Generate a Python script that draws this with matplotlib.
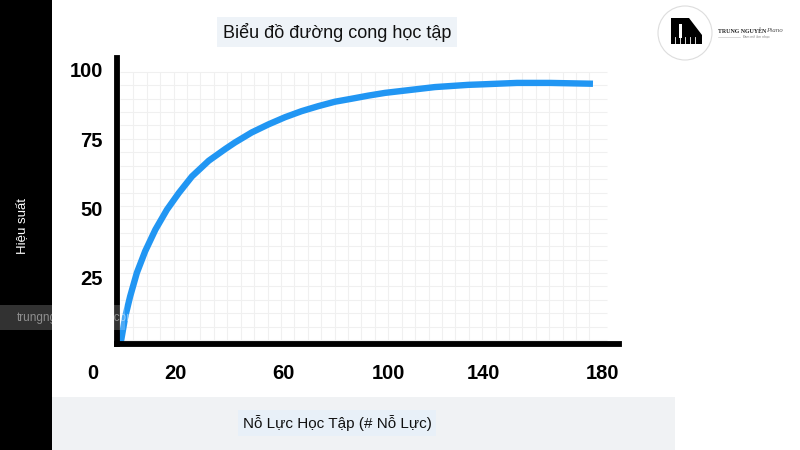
import numpy as np
import matplotlib
matplotlib.use("Agg")
import matplotlib.pyplot as plt
from matplotlib.patches import Rectangle, Circle, Polygon
from matplotlib.transforms import blended_transform_factory, offset_copy

plt.rcParams['font.family'] = ['Liberation Sans', 'DejaVu Sans']

# ---- data ----
effort = [0, 0.5, 2.0, 3.8, 6.3, 9.4, 13.2, 17.5, 21.9, 26.8, 33.1, 39.2, 42.9,
          49.1, 55.3, 61.5, 67.7, 73.9, 80.1, 86.4, 92.5, 98.8, 105.0, 111.2,
          117.4, 123.6, 129.8, 135.4, 148.0, 160.3, 176.3]
performance = [1.5, 2.6, 11.0, 18.2, 26.7, 34.5, 42.3, 49.5, 55.5, 61.5, 67.2, 71.4, 73.8,
               77.4, 80.3, 82.9, 85.1, 86.9, 88.5, 89.6, 90.7, 91.7, 92.4, 93.1,
               93.8, 94.2, 94.6, 94.8, 95.3, 95.3, 95.0]
xtick_labels = ['0', '20', '60', '100', '140', '180']
xtick_pos = [-10, 20.5, 61, 100, 135.3, 180]
ytick_vals = [25, 50, 75, 100]

title = "Biểu đồ đường cong học tập"
xlabel = "Nỗ Lực Học Tập (# Nỗ Lực)"
ylabel = "Hiệu suất"

W, H = 800, 450
fig = plt.figure(figsize=(8, 4.5), dpi=100)
fig.patch.set_facecolor('white')

def fx(x):
    return x / W

def fy(y):
    return 1 - y / H

# background decorations
fig.add_artist(Rectangle((0, 0), fx(52), 1, transform=fig.transFigure,
                         facecolor='black', edgecolor='none', zorder=0))
fig.add_artist(Rectangle((fx(52), 0), fx(675 - 52), fy(397), transform=fig.transFigure,
                         facecolor='#f0f2f4', edgecolor='none', zorder=0))

# axes
ax = fig.add_axes([fx(117), fy(344), fx(619 - 117), fy(58) - fy(344)])
ax.set_facecolor('none')

# grid
vx = np.arange(5, 180, 5)
ax.vlines(vx, 1.0, 99.3, colors='#f0f0f0', linewidth=0.8, zorder=1)
hy = np.linspace(2.4, 99.3, 21)
ax.hlines(hy, 0, 181.5, colors='#f0f0f0', linewidth=0.8, zorder=1)

ax.plot(effort, performance, color='#2196F3', linewidth=4.6,
        solid_capstyle='butt', solid_joinstyle='round', zorder=3)

for s in ['top', 'right']:
    ax.spines[s].set_visible(False)
for s in ['left', 'bottom']:
    ax.spines[s].set_linewidth(4.2)
    ax.spines[s].set_color('black')
    ax.spines[s].set_capstyle('projecting')
    ax.spines[s].set_zorder(4)

ax.set_xticks([])
ax.set_yticks(ytick_vals)
ax.set_yticklabels([str(v) for v in ytick_vals])
ax.tick_params(axis='y', length=0, pad=10, labelsize=14.5)
for lab in ax.get_yticklabels():
    lab.set_fontweight('bold')
ax.set_xlim(-1.1, 186.0)
ax.set_ylim(1.0, 104.3)

# x tick labels (placed on the data scale, below the axis)
btrans = blended_transform_factory(ax.transData, ax.transAxes)
ltrans = offset_copy(btrans, fig=fig, y=-21, units='points')
for xp, lab in zip(xtick_pos, xtick_labels):
    ax.text(xp, 0, lab, transform=ltrans, ha='center', va='center',
            fontsize=14.5, fontweight='bold', clip_on=False)

# title
fig.text(fx(337), fy(32), title, ha='center', va='center', fontsize=13, color='#111111',
         bbox=dict(boxstyle='square,pad=0.3', facecolor='#eef3f8', edgecolor='none'))

# x label
fig.text(fx(337), fy(423), xlabel, ha='center', va='center', fontsize=11, color='#111111',
         bbox=dict(boxstyle='square,pad=0.3', facecolor='#e8f0f8', edgecolor='none'))

# y label
fig.text(fx(22), fy(226), ylabel, ha='center', va='center', fontsize=9.5, color='white',
         rotation=90)

# watermark band
fig.add_artist(Rectangle((0, fy(330)), fx(125), fy(305) - fy(330), transform=fig.transFigure,
                         facecolor='white', alpha=0.2, edgecolor='none', zorder=10))
fig.text(fx(17), fy(318), "trungnguyenpiano.com", ha='left', va='center', fontsize=8.5,
         color='white', alpha=0.45, zorder=11)

# logo
logo_ax = fig.add_axes([0, 0, 1, 1], zorder=12)
logo_ax.set_xlim(0, W)
logo_ax.set_ylim(H, 0)
logo_ax.axis('off')
logo_ax.add_patch(Circle((685, 33), 27, facecolor='white', edgecolor='#dddddd', linewidth=0.8))
logo_ax.add_patch(Polygon([(671, 18), (689, 18), (702, 35), (702, 44), (671, 44)],
                          closed=True, facecolor='black', edgecolor='none'))
logo_ax.add_patch(Rectangle((679, 24), 3, 14, facecolor='white', edgecolor='none'))
for kx in [675, 680, 685, 690, 695]:
    logo_ax.plot([kx, kx], [37, 44], color='white', linewidth=0.6)
logo_ax.text(718, 31, "TRUNG NGUYÊN", ha='left', va='center', fontsize=4.2,
             fontweight='bold', family=['Liberation Serif', 'DejaVu Serif'], color='#222222')
logo_ax.text(766, 31, "Piano", ha='left', va='center', fontsize=5, style='italic',
             family=['Liberation Serif', 'DejaVu Serif'], color='#555555')
logo_ax.plot([718, 740], [36.5, 36.5], color='#bbbbbb', linewidth=0.4)
logo_ax.text(742, 36.5, "Đam mê âm nhạc", ha='left', va='center', fontsize=2.5, color='#888888')

fig.savefig('out.png', dpi=100)
